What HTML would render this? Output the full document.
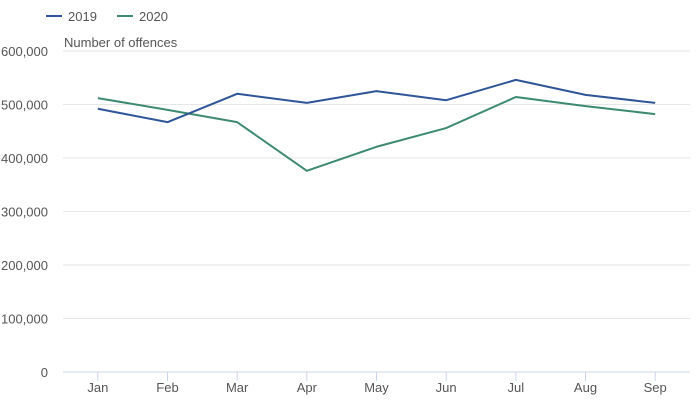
<!DOCTYPE html>
<html><head><meta charset="utf-8"><style>
body{margin:0;background:#fff;font-family:"Liberation Sans",sans-serif}
svg text{font-family:"Liberation Sans",sans-serif}
</style></head><body>
<svg id="chart" width="700" height="408" xmlns="http://www.w3.org/2000/svg">
<g>
<g><line x1="46" y1="16" x2="62" y2="16" stroke="#2e5597" stroke-width="2"/><text x="68" y="21" font-size="13" fill="#555">2019</text></g>
<g><line x1="117" y1="16" x2="133" y2="16" stroke="#3d8a6e" stroke-width="2"/><text x="139" y="21" font-size="13" fill="#555">2020</text></g>
</g>
<text x="64" y="47" font-size="13" fill="#555">Number of offences</text>
<g id="grid"></g><g id="axes"></g><g id="series"></g>
</svg>
<script>
const categories=["Jan","Feb","Mar","Apr","May","Jun","Jul","Aug","Sep"];
const values2019=[492000,467000,520000,503000,525000,508000,546000,518000,503000];
const values2020=[512000,490000,467000,376000,421000,456000,514000,497000,482000];
const yTicks=[0,100000,200000,300000,400000,500000,600000];
const yTickLabels=["0","100,000","200,000","300,000","400,000","500,000","600,000"];
const NS="http://www.w3.org/2000/svg";
const L=63,R=690,T=51,B=372,yMax=600000;
const band=(R-L)/categories.length;
function x(i){return L+band*(i+0.5);}
function y(v){return B-(v/yMax)*(B-T);}
function mk(tag,attrs,parent){const e=document.createElementNS(NS,tag);for(const k in attrs)e.setAttribute(k,attrs[k]);parent.appendChild(e);return e;}
const grid=document.getElementById('grid'),axes=document.getElementById('axes'),series=document.getElementById('series');
yTicks.forEach((t,i)=>{
  if(t>0){const g=mk('line',{x1:L,x2:R,y1:y(t),y2:y(t),stroke:'#e6e6e6','stroke-width':1},grid);
  
  }
  const tx=mk('text',{x:48,y:y(t)+5,'font-size':13,fill:'#555','text-anchor':'end'},axes);
  tx.textContent=yTickLabels[i];
  
  
});
const ax=mk('line',{x1:L,x2:R,y1:B,y2:B,stroke:'#ccd6eb','stroke-width':1},axes);


categories.forEach((c,i)=>{
  const tk=mk('line',{x1:x(i),x2:x(i),y1:B,y2:B+9,stroke:'#ccd6eb','stroke-width':1},axes);
  
  
  const tx=mk('text',{x:x(i),y:B+20,'font-size':13,fill:'#555','text-anchor':'middle'},axes);
  tx.textContent=c;
  
  
});
function draw(vals,color,name){
  const p=mk('path',{d:vals.map((v,i)=>(i?'L':'M')+x(i)+' '+y(v)).join(' '),fill:'none',stroke:color,'stroke-width':2,'stroke-linejoin':'round'},series);
  
  
}
draw(values2020,'#3d8a6e','line-2020');
draw(values2019,'#2e5597','line-2019');
</script>
</body></html>
